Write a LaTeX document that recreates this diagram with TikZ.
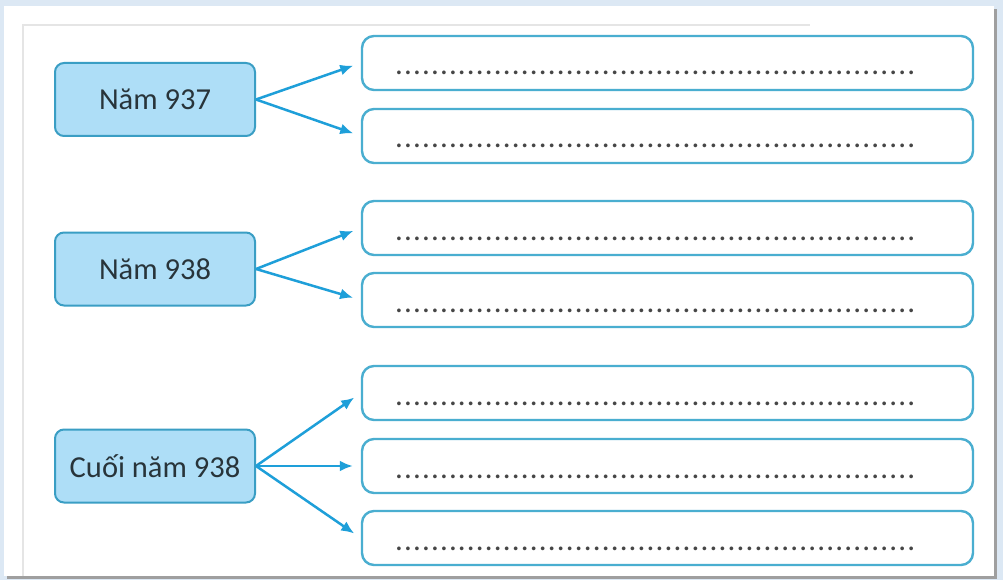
\documentclass[tikz,border=0pt]{standalone}
\usepackage{fontspec}
\setmainfont{Carlito}
\usetikzlibrary{arrows.meta,positioning}
\definecolor{pagebg}{HTML}{DCE8F4}
\definecolor{yearfill}{HTML}{AEDEF7}
\definecolor{yearline}{HTML}{3A9EC4}
\definecolor{blankline}{HTML}{4AAED0}
\definecolor{arrowblue}{HTML}{1E9FD9}
\definecolor{textdark}{HTML}{28343A}
\newcommand{\blankdots}{\hbox to 522pt{\xleaders\hbox to 9pt{\hss.\hss}\hfill}}
\tikzstyle{yearbox}  = [rectangle, rounded corners=9pt, minimum width=200pt, minimum height=73pt, draw=yearline, line width=2pt, fill=yearfill, text=textdark, font=\fontsize{30.5}{32}\selectfont, inner sep=2pt]
\tikzstyle{blankbox} = [rectangle, rounded corners=12pt, minimum width=611pt, minimum height=54pt, draw=blankline, line width=2.4pt, fill=white, text=gray!55!black, font=\fontsize{31}{32}\selectfont, text width=546pt, align=left, text height=24pt, text depth=0pt, inner sep=0pt]
\tikzstyle{arrow}    = [line width=2.5pt, draw=arrowblue, -{Latex[length=13pt,width=11pt]}, shorten >=8pt]
\begin{document}
\begin{tikzpicture}[x=1pt,y=-1pt]
		\fill[pagebg] (0,0) rectangle (1003,580);
		\useasboundingbox (0,0) rectangle (1003,580);
		\fill[gray!75] (7,9) rectangle (997,579);
		\fill[white] (4,6) rectangle (994,576);
		\draw[gray!20, line width=1.5pt] (23,576) -- (23,25) -- (810,25);

		\node[yearbox] (y937) at (155,99.5) {Năm 937};
		\node[yearbox] (y938) at (155,269) {Năm 938};
		\node[yearbox] (yend) at (155,466) {Cuối năm 938};

		\node[blankbox] (b1) at (667.5,63) {\blankdots};
		\node[blankbox] (b2) at (667.5,136) {\blankdots};
		\node[blankbox] (b3) at (667.5,228) {\blankdots};
		\node[blankbox] (b4) at (667.5,300) {\blankdots};
		\node[blankbox] (b5) at (667.5,393) {\blankdots};
		\node[blankbox] (b6) at (667.5,466) {\blankdots};
		\node[blankbox] (b7) at (667.5,538) {\blankdots};

		\draw[arrow] (y937.east) -- (b1.west);
		\draw[arrow] (y937.east) -- (b2.west);
		\draw[arrow] (y938.east) -- (b3.west);
		\draw[arrow] (y938.east) -- (b4.west);
		\draw[arrow] (yend.east) -- (b5.west);
		\draw[arrow] (yend.east) -- (b6.west);
		\draw[arrow] (yend.east) -- (b7.west);
	\end{tikzpicture}
\end{document}
